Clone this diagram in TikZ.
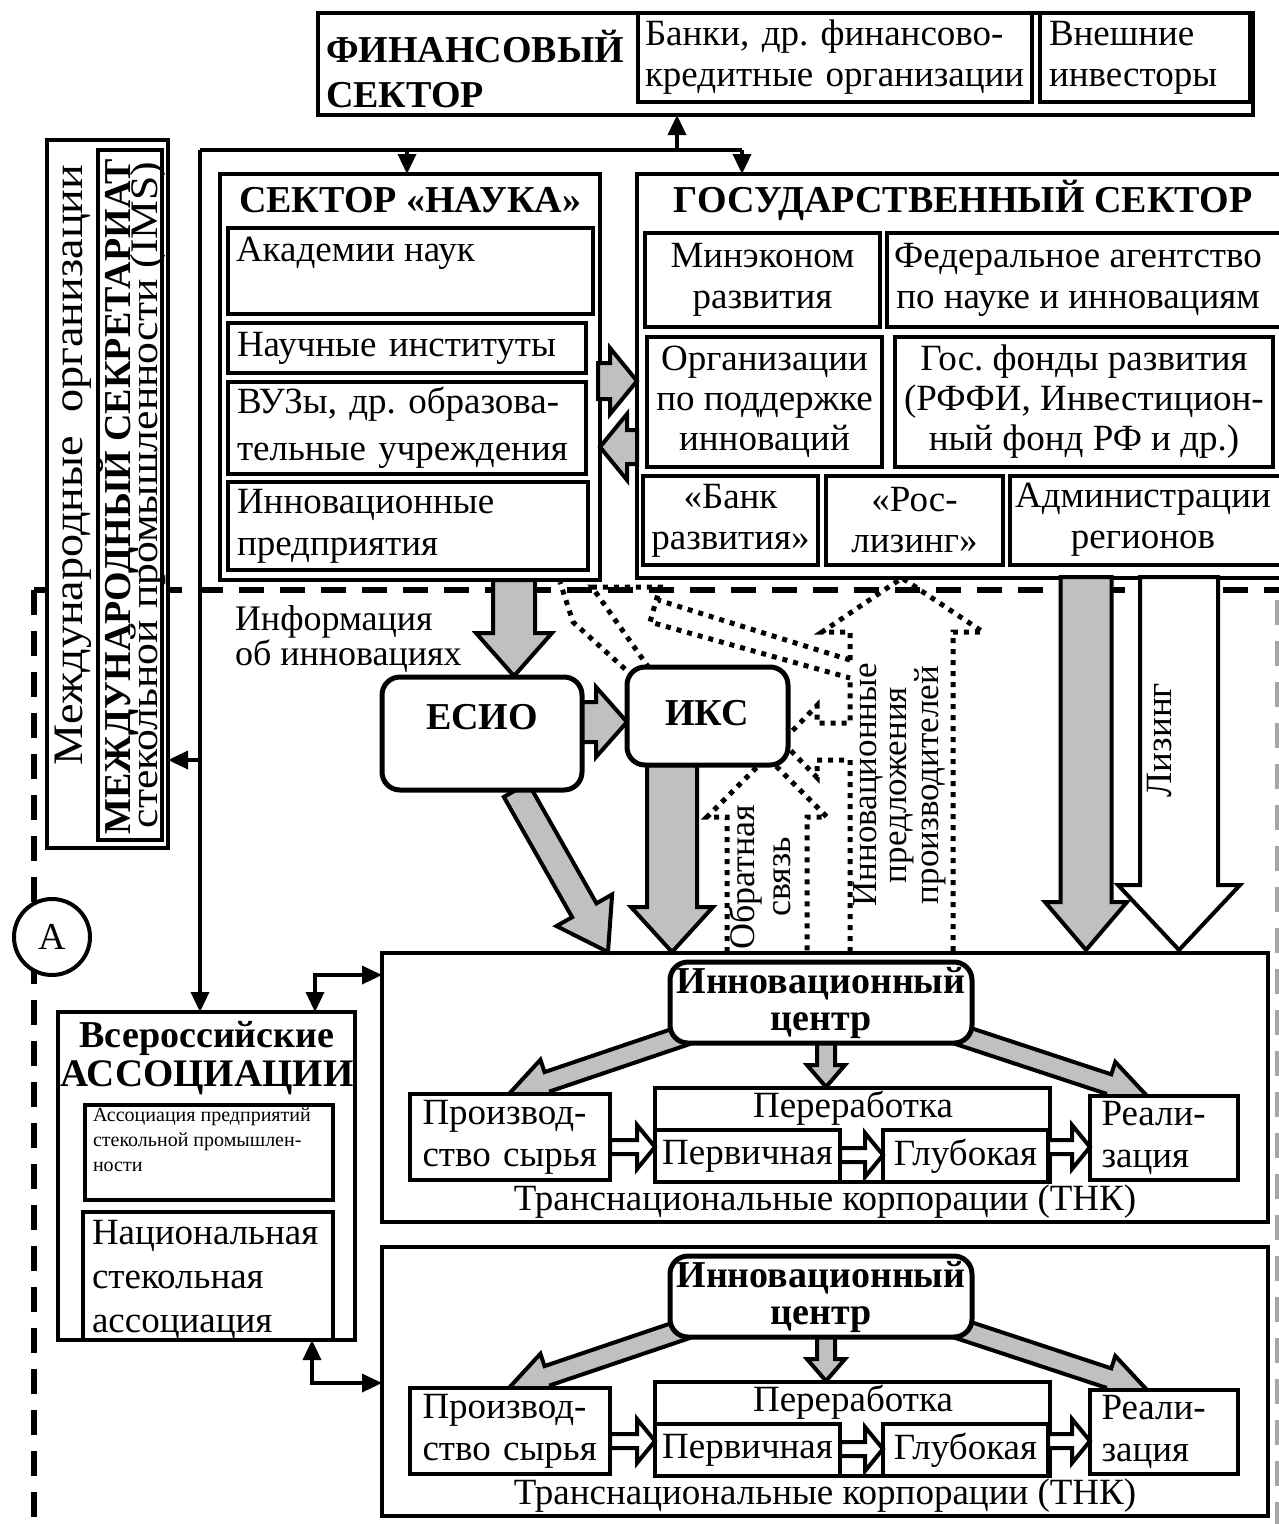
\documentclass[tikz,border=0pt]{standalone}
\usepackage{fontspec}
\usepackage{graphicx}
\setmainfont{Liberation Serif}
\frenchspacing
\usetikzlibrary{arrows.meta,calc}
\newcommand\fsz[2]{\fontsize{#1pt}{#2pt}\selectfont}
\definecolor{arrgray}{HTML}{C0C0C0}
\tikzset{
  bx/.style={draw, line width=3.5pt, fill=white, inner sep=0pt, outer sep=0pt, align=center, font=\fsz{37}{41}},
  rbx/.style={bx, rounded corners=18pt, line width=5pt},
  conn/.style={line width=3.5pt, -{Triangle[length=20pt,width=18pt]}},
  biconn/.style={line width=3.5pt, {Triangle[length=20pt,width=18pt]}-{Triangle[length=20pt,width=18pt]}},
  plainln/.style={line width=3.5pt},
  dashln/.style={line width=6pt, dash pattern=on 25pt off 16pt},
  grayarr/.style={draw, line width=4pt, fill=arrgray, line join=miter, miter limit=20},
  whitearr/.style={draw, line width=4pt, fill=white, line join=miter, miter limit=20},
  dotarr/.style={draw, line width=5pt, dash pattern=on 5pt off 6pt},
  lbl/.style={inner sep=0pt, outer sep=0pt, align=center, font=\fsz{37}{41}},
  bold/.style={lbl, font=\bfseries\fsz{38}{42}},
}
\newcommand\gbox[7][]{\node[bx, minimum width={(#5-#3)*1pt}, minimum height={(#6-#4)*1pt}, #1] (#2) at ({(#3+#5)/2},{(#4+#6)/2}) {#7};}
\newcommand\garrow[6][grayarr]{%
 \coordinate (ga1) at (#2);\coordinate (ga2) at (#3);
 \coordinate (ga3) at ($(ga2)!#6pt!(ga1)$);
 \path[#1] ($(ga1)!#4pt!90:(ga2)$) -- ($(ga3)!#4pt!90:(ga2)$) -- ($(ga3)!#5pt!90:(ga2)$) -- (ga2) -- ($(ga3)!#5pt!-90:(ga2)$) -- ($(ga3)!#4pt!-90:(ga2)$) -- ($(ga1)!#4pt!-90:(ga2)$) -- cycle;}
\newcommand\oarrow[6][dotarr]{%
 \coordinate (ga1) at (#2);\coordinate (ga2) at (#3);
 \coordinate (ga3) at ($(ga2)!#6pt!(ga1)$);
 \path[#1] ($(ga1)!#4pt!90:(ga2)$) -- ($(ga3)!#4pt!90:(ga2)$) -- ($(ga3)!#5pt!90:(ga2)$) -- (ga2) -- ($(ga3)!#5pt!-90:(ga2)$) -- ($(ga3)!#4pt!-90:(ga2)$) -- ($(ga1)!#4pt!-90:(ga2)$);}

\begin{document}
\begin{tikzpicture}[x=1pt,y=-1pt]
\useasboundingbox (0,0) rectangle (1279,1524);
\clip (0,0) rectangle (1279,1524);
\fill[white] (0,0) rectangle (1279,1524);

% dashed boundary lines
\draw[dashln] (34,590) -- (1290,590);
\draw[dashln] (34,590) -- (34,1530);
\draw[line width=4pt, black!35, dash pattern=on 25pt off 16pt] (1277,600) -- (1277,1530);

% ---------- financial sector
\gbox{fin}{318}{13}{1253}{115}{}
\node[bold, anchor=west, align=left, font=\bfseries\fsz{38}{45}] (fint) at (326,69) {ФИНАНСОВЫЙ\\СЕКТОР};
\gbox[align=left, text width=380pt]{bank}{638}{13}{1032}{102}{Банки, др. финансово-\\кредитные организации}
\gbox[align=left, text width=192pt]{inv}{1040}{13}{1250}{102}{Внешние\\инвесторы}

% ---------- international
\gbox{intl}{47}{140}{168}{848}{}
\gbox{ims}{98}{150}{162}{840}{}
\node[lbl, rotate=90, font=\fsz{42}{42}] (intlt) at (73,465) {\scalebox{1.1}[1]{Международные\ \ организации}};
\node[bold, rotate=90] (imst1) at (118,497) {МЕЖДУНАРОДНЫЙ СЕКРЕТАРИАТ};
\node[lbl, rotate=90, font=\fsz{39}{39}] (imst2) at (148,495) {\scalebox{1.12}[1]{стекольной промышленности (IMS)}};

% ---------- science sector
\gbox{nauka}{220}{174}{600}{580}{}
\node[bold] (naukat) at (410,200) {СЕКТОР «НАУКА»};
\gbox{akad}{228}{228}{593}{314}{}
\node[lbl, anchor=west] (akadt) at (236,253) {Академии наук};
\gbox[align=left, text width=340pt]{nii}{228}{323}{586}{373}{Научные институты}
\gbox[align=left, text width=340pt, font=\fsz{37}{47}]{vuz}{228}{382}{586}{474}{ВУЗы, др. образова-\\тельные учреждения}
\gbox[align=left, text width=342pt, font=\fsz{37}{42}]{inpr}{228}{482}{588}{570}{Инновационные\\предприятия}

% ---------- state sector
\gbox{gos}{637}{174}{1295}{578}{}
\node[bold] (gost) at (963,200) {ГОСУДАРСТВЕННЫЙ СЕКТОР};
\gbox{minek}{645}{233}{880}{327}{Минэконом\\развития}
\gbox{fed}{887}{233}{1290}{327}{}
\node[lbl] (fedt) at (1078,280) {Федеральное агентство\\по науке и инновациям};
\gbox[font=\fsz{37}{40}]{org}{647}{337}{882}{467}{Организации\\по поддержке\\инноваций}
\gbox[font=\fsz{37}{40}]{fond}{895}{337}{1273}{467}{Гос. фонды развития\\(РФФИ, Инвестицион-\\ный фонд РФ и др.)}
\gbox{bankr}{643}{476}{818}{565}{«Банк\\развития»}
\gbox{rosl}{826}{476}{1003}{565}{«Рос-\\лизинг»}
\gbox{adm}{1010}{476}{1290}{565}{}
\node[lbl] (admt) at (1143,520) {Администрации\\регионов};

% ---------- connectors at top
\coordinate (jl) at (200,150);
\coordinate (jr) at (742,150);
\coordinate (jf) at (677,150);
\coordinate (jn) at (407,150);
\coordinate (ji) at (200,760);
\draw[plainln] (jl) -- (jr);
\draw[conn] (jf) -- (fin.south -| jf);
\draw[conn] (jn) -- (nauka.north -| jn);
\draw[conn] (jr) -- (gos.north -| jr);

% ---------- associations
\gbox{vser}{58}{1012}{355}{1340}{}
\draw[conn] (jl) -- (vser.north -| jl);
\draw[conn] (ji) -- (intl.east |- ji);
\node[bold] (vsert) at (207,1038) {Всероссийские};
\node[bold, font=\bfseries\fsz{39}{42}] (vsert2) at (207,1078) {АССОЦИАЦИИ};
\gbox{asp}{85}{1105}{333}{1200}{}
\node[lbl, anchor=north west, align=left, font=\fsz{20}{25}] (aspt) at (93,1108) {Ассоциация предприятий\\стекольной промышлен-\\ности};
\gbox{nsa}{83}{1212}{333}{1340}{}
\node[lbl, anchor=west, align=left, font=\fsz{37}{44}] (nsat) at (92,1280) {Национальная\\стекольная\\ассоциация};

\node[circle, draw, line width=4pt, fill=white, minimum size=76pt, inner sep=0pt, font=\fsz{38}{40}] (cA) at (52,937) {А};

% ---------- TNK 1
\gbox{tnk1}{382}{953}{1268}{1222}{}
\garrow{700,1030}{508,1095}{10}{23}{42}
\garrow{826,1040}{826,1087}{9}{19}{22}
\garrow{945,1030}{1148,1097}{10}{23}{42}
\gbox[rbx, font=\bfseries\fsz{38}{37}]{icen1}{670}{962}{972}{1043}{Инновационный\\центр}
\gbox[align=left, text width=175pt, font=\fsz{37}{42}]{prod1}{410}{1094}{610}{1180}{Производ-\\ство сырья}
\gbox{perer1}{655}{1088}{1050}{1182}{}
\node[lbl] (perert1) at (853,1108) {Переработка};
\gbox{perv1}{655}{1130}{840}{1182}{Первичная}
\gbox{glub1}{883}{1130}{1048}{1182}{Глубокая}
\gbox[align=left, text width=125pt, font=\fsz{37}{42}]{real1}{1090}{1096}{1238}{1180}{Реали-\\зация}
\garrow[whitearr]{prod1.east |- 0,1147}{perv1.west |- 0,1147}{7}{22}{18}
\garrow[whitearr]{perv1.east |- 0,1155}{glub1.west |- 0,1155}{7}{22}{18}
\garrow[whitearr]{glub1.east |- 0,1147}{real1.west |- 0,1147}{7}{22}{18}
\node[lbl] (tnkt1) at (825,1202) {Транснациональные корпорации (ТНК)};

% ---------- TNK 2
\gbox{tnk2}{382}{1247}{1268}{1516}{}
\garrow{700,1324}{508,1389}{10}{23}{42}
\garrow{826,1334}{826,1381}{9}{19}{22}
\garrow{945,1324}{1148,1391}{10}{23}{42}
\gbox[rbx, font=\bfseries\fsz{38}{37}]{icen2}{670}{1256}{972}{1337}{Инновационный\\центр}
\gbox[align=left, text width=175pt, font=\fsz{37}{42}]{prod2}{410}{1388}{610}{1474}{Производ-\\ство сырья}
\gbox{perer2}{655}{1382}{1050}{1476}{}
\node[lbl] (perert2) at (853,1402) {Переработка};
\gbox{perv2}{655}{1424}{840}{1476}{Первичная}
\gbox{glub2}{883}{1424}{1048}{1476}{Глубокая}
\gbox[align=left, text width=125pt, font=\fsz{37}{42}]{real2}{1090}{1390}{1238}{1474}{Реали-\\зация}
\garrow[whitearr]{prod2.east |- 0,1441}{perv2.west |- 0,1441}{7}{22}{18}
\garrow[whitearr]{perv2.east |- 0,1449}{glub2.west |- 0,1449}{7}{22}{18}
\garrow[whitearr]{glub2.east |- 0,1441}{real2.west |- 0,1441}{7}{22}{18}
\node[lbl] (tnkt2) at (825,1496) {Транснациональные корпорации (ТНК)};

% bidirectional links
\coordinate (b1) at (315,975);
\draw[biconn] (vser.north -| b1) -- (b1) -- (tnk1.west |- b1);
\coordinate (b2) at (312,1383);
\draw[biconn] (vser.south -| b2) -- (b2) -- (tnk2.west |- b2);

% ---------- block arrows in the middle
\garrow{598,381}{637,381}{18}{33}{27}
\garrow{637,447}{600,447}{17}{33}{27}
\garrow{514,580}{514,676}{21}{38}{43}
\garrow{516,790}{608,952}{14}{32}{48}
\garrow{1086,577}{1086,950}{25.5}{41}{48}
\garrow[whitearr]{1179,577}{1179,950}{39}{61}{65}
\node[lbl, rotate=90] (leas) at (1160,740) {Лизинг};

% dotted hollow arrows
\oarrow{767,952}{767,757}{40}{60}{60}
\draw[dotarr] (850,952) -- (850,760) -- (817,760) -- (817,777.5) -- (782,741.5) -- (817,705.5) -- (817,723) -- (850,723) -- (850,678);
\draw[dotarr] (850,660) -- (850,632) -- (822,632) -- (902,578) -- (983,632) -- (953,632) -- (953,952);
\draw[dotarr] (625,669) -- (573,622) -- (560,582);
\draw[dotarr] (649,668) -- (592,587) -- (660,587) -- (650,622) -- (850,678);
\draw[dotarr] (850,660) -- (658,600);

\garrow{580,722}{627,722}{20}{35}{31}
\garrow{672,765}{672,952}{25}{41}{45}

% ---------- ESIO and IKS
\gbox[rbx]{esio}{382}{677}{582}{790}{}
\node[bold] (esiot) at (482,717) {ЕСИО};
\gbox[rbx]{iks}{627}{667}{788}{765}{}
\node[bold] (ikst) at (707,713) {ИКС};

\node[lbl, anchor=west, align=left, font=\fsz{36}{32}] (info) at (235,639) {Информация\\об инновациях};
\node[lbl, rotate=90, font=\fsz{36}{36}] (obr) at (760,877) {Обратная\\связь};
\node[lbl, rotate=90, font=\fsz{35}{30}] (prop) at (900,785) {Инновационные\\предложения\\производителей};
\end{tikzpicture}
\end{document}
